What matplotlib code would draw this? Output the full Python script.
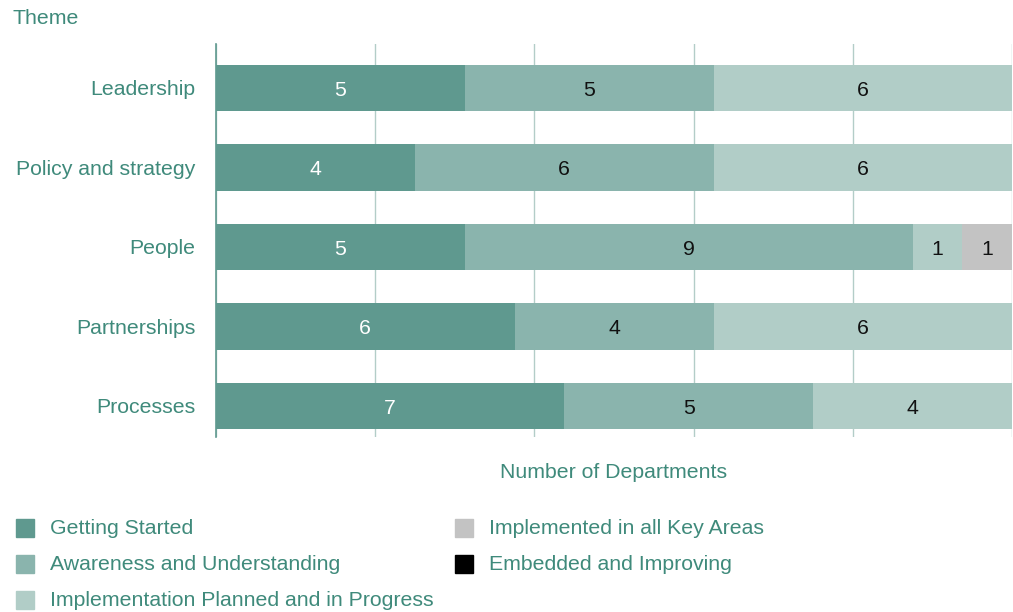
import matplotlib
matplotlib.use("Agg")
import matplotlib.pyplot as plt
from matplotlib.patches import Rectangle
import numpy as np

plt.rcParams['font.family'] = ['Liberation Sans', 'DejaVu Sans']

themes = ["Leadership", "Policy and strategy", "People", "Partnerships", "Processes"]
series_names = ["Getting Started", "Awareness and Understanding",
                "Implementation Planned and in Progress",
                "Implemented in all Key Areas", "Embedded and Improving"]
getting_started = [5, 4, 5, 6, 7]
awareness = [5, 6, 9, 4, 5]
planned = [6, 6, 1, 6, 4]
implemented = [0, 0, 1, 0, 0]
embedded = [0, 0, 0, 0, 0]
series = [getting_started, awareness, planned, implemented, embedded]
colors = ["#5f998f", "#8ab4ad", "#b1cdc7", "#c3c3c3", "#000000"]
label_colors = ["white", "#111111", "#111111", "#111111", "white"]
teal = "#3f8a7b"
fs = 15.3

fig = plt.figure(figsize=(10.13, 6.12), dpi=100)
ax = fig.add_axes([216/1013, 1-437/612, 796/1013, 393/612])

y = np.arange(len(themes))
left = np.zeros(len(themes))
for vals, c, lc in zip(series, colors, label_colors):
    vals = np.array(vals, dtype=float)
    ax.barh(y, vals, left=left, height=0.58, color=c, zorder=2)
    for yi, (l, v) in enumerate(zip(left, vals)):
        if v > 0:
            ax.text(l + v/2, yi + 0.03, f"{int(v)}", ha="center", va="center",
                    color=lc, fontsize=fs, zorder=3)
    left += vals

total = 16
ax.set_xlim(0, total)
ax.set_ylim(4.39, -0.553)
ax.set_xticks(np.linspace(0, total, 6))
ax.set_xticklabels([])
ax.tick_params(axis="x", length=0)
ax.grid(axis="x", color="#b3cdc8", linewidth=1, zorder=0)
ax.set_yticks(y)
ax.set_yticklabels(themes, color=teal, fontsize=fs)
ax.tick_params(axis="y", length=0, pad=15)
for s in ["top", "right", "bottom"]:
    ax.spines[s].set_visible(False)
ax.spines["left"].set_color("#5f998f")
ax.spines["left"].set_linewidth(1.2)
ax.set_xlabel("Number of Departments", color=teal, fontsize=fs, labelpad=15)

fig.text(12/1013, 1-19/612, "Theme", color=teal, fontsize=fs, va="center", ha="left")

# legend
rows = [528, 564, 600]
positions = [(16, rows[0]), (16, rows[1]), (16, rows[2]), (455, rows[0]), (455, rows[1])]
for (px, py), name, c in zip(positions, series_names, colors):
    fig.add_artist(Rectangle((px/1013, 1-(py+9)/612), 18/1013, 18/612,
                             transform=fig.transFigure, color=c))
    fig.text((px+34)/1013, 1-(py+1)/612, name, color=teal, fontsize=fs,
             va="center", ha="left")

fig.savefig("out.png", dpi=100)
